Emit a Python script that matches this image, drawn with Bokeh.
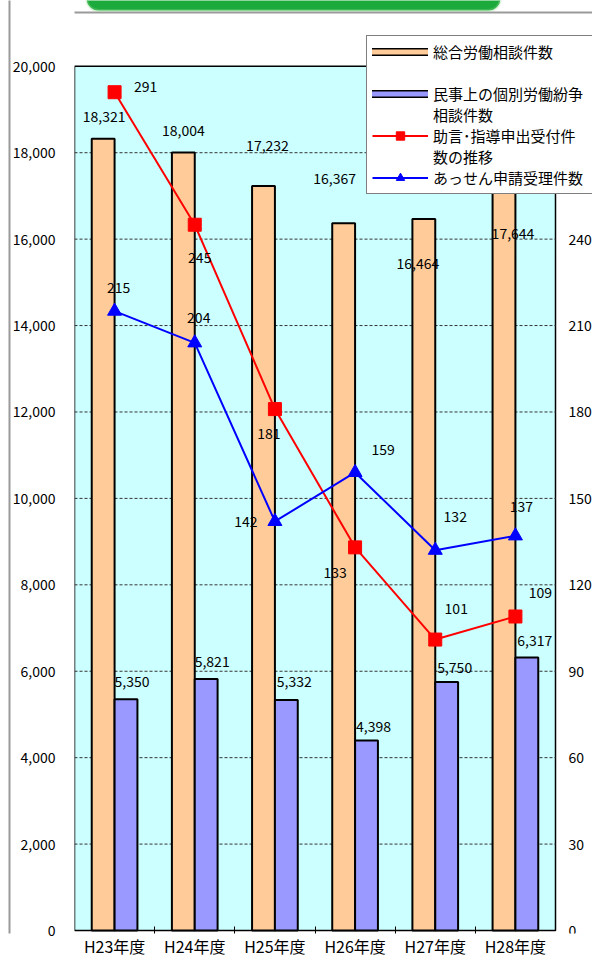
from bokeh.plotting import figure
from bokeh.models import (ColumnDataSource, Range1d, LinearAxis, FixedTicker, BoxAnnotation,
                          Legend, LegendItem, NumeralTickFormatter)
from bokeh.core.properties import value
from bokeh.embed import file_html
from bokeh.resources import INLINE

# ---- data ----
categories = ["H23年度", "H24年度", "H25年度", "H26年度", "H27年度", "H28年度"]
consult_total = [18321, 18004, 17232, 16367, 16464, 17644]      # 総合労働相談件数
civil_disputes = [5350, 5821, 5332, 4398, 5750, 6317]            # 民事上の個別労働紛争相談件数
advice_requests = [291, 245, 181, 133, 101, 109]                  # 助言・指導申出受付件数
mediation_requests = [215, 204, 142, 159, 132, 137]               # あっせん申請受理件数
left_ticks = [0, 2000, 4000, 6000, 8000, 10000, 12000, 14000, 16000, 18000, 20000]
right_ticks = [0, 30, 60, 90, 120, 150, 180, 210, 240, 270, 300]
legend_rows = ["総合労働相談件数", " ", "民事上の個別労働紛争", "相談件数",
               "助言･指導申出受付件", "数の推移", "あっせん申請受理件数"]

# ---- label placement (screen px offsets, styling only) ----
orange_dx = [1, 0, 4, -9, -6, 9]
orange_dy = [-22, -22, -40, -45, 44, 65]
purple_dx = [6, 6, 8, 7, 8, 8]
purple_dy = [-18, -17, -19, -14, -15, -17]
red_dx = [31, 5, -6, -20, 21, 25]
red_dy = [-6, 33, 24, 25, -31, -24]
blue_dx = [4, 4, -29, 28, 20, 6]
blue_dy = [-24, -25, 0, -23, -34, -29]

# ---- layout constants ----
W, H = 592, 960
FRAME_LEFT = 74
FRAME_BOTTOM = 936        # frame bottom (px)
PLOT_RIGHT = 555          # right edge of the plot area (px)
PLOT_BOTTOM = 933         # zero line (px)
PLOT_TOP = 66             # top of plot area (px)
FONT = "Noto Sans CJK JP"
BW = 0.285

n = len(categories)
xs = list(range(1, n + 1))
px_per_cat = (PLOT_RIGHT - FRAME_LEFT) / n
x_end = 0.5 + (W - FRAME_LEFT) / px_per_cat
plot_h = PLOT_BOTTOM - PLOT_TOP
ratio = right_ticks[-1] / left_ticks[-1]

def px_x(px):
    return 0.5 + (px - FRAME_LEFT) / px_per_cat

def px_y(py):
    return (PLOT_BOTTOM - py) / plot_h * left_ticks[-1]

def fmt(v):
    return f"{v:,}"

src = ColumnDataSource(dict(
    x=xs, xo=[x - BW / 2 for x in xs], xp=[x + BW / 2 for x in xs],
    total=consult_total, civil=civil_disputes,
    advice=advice_requests, med=mediation_requests,
    total_lbl=[fmt(v) for v in consult_total], civil_lbl=[fmt(v) for v in civil_disputes],
    advice_lbl=[str(v) for v in advice_requests], med_lbl=[str(v) for v in mediation_requests],
    odx=orange_dx, ody=orange_dy, pdx=purple_dx, pdy=purple_dy,
    rdx=red_dx, rdy=red_dy, bdx=blue_dx, bdy=blue_dy,
))

y0, y1 = px_y(FRAME_BOTTOM), px_y(0)
p = figure(width=W, height=H, output_backend="svg", toolbar_location=None,
           x_range=Range1d(0.5, x_end), y_range=Range1d(y0, y1),
           min_border_left=FRAME_LEFT, min_border_right=0, min_border_top=0,
           min_border_bottom=H - FRAME_BOTTOM)
p.extra_y_ranges = {"right": Range1d(y0 * ratio, y1 * ratio)}
p.background_fill_color = "white"
p.border_fill_color = "white"
p.outline_line_color = None
p.xgrid.grid_line_color = None
p.ygrid.grid_line_color = None

# left axis
ya = p.yaxis[0]
ya.ticker = FixedTicker(ticks=left_ticks)
ya.formatter = NumeralTickFormatter(format="0,0")
ya.axis_line_color = None
ya.major_tick_line_color = None
ya.minor_tick_line_color = None
ya.major_tick_out = 0
ya.major_tick_in = 0
ya.major_label_standoff = 19
ya.major_label_text_font = FONT
ya.major_label_text_font_size = "14px"
ya.major_label_text_color = "black"

# outer gray frame line (empty axis)
edge_axis = LinearAxis(ticker=FixedTicker(ticks=[]), axis_line_color="#9a9a9a", axis_line_width=2,
                       major_tick_line_color=None, minor_tick_line_color=None,
                       major_label_text_font_size="0px")
p.add_layout(edge_axis, "left")

# bottom axis
xa = p.xaxis[0]
xa.ticker = FixedTicker(ticks=xs, minor_ticks=[x + 0.5 for x in xs[:-1]])
xa.major_label_overrides = {x: c for x, c in zip(xs, categories)}
xa.axis_line_color = None
xa.major_tick_line_color = None
xa.major_tick_out = 0
xa.major_tick_in = 0
xa.minor_tick_line_color = "black"
xa.minor_tick_in = 7
xa.minor_tick_out = 0
xa.major_label_standoff = 0
xa.major_label_text_font = FONT
xa.major_label_text_font_size = "16px"
xa.major_label_text_color = "black"

# plot area
p.quad(left=[0.5], right=[n + 0.5], bottom=[0], top=[left_ticks[-1]],
       fill_color="#CCFFFF", line_color="black", line_width=1.5)
inner = left_ticks[1:-1]
p.segment(x0=[0.5] * len(inner), x1=[n + 0.5] * len(inner), y0=inner, y1=inner,
          line_color="#333333", line_dash="3 2", line_width=1)

# decorations: top frame line and green banner
p.segment(x0=[px_x(0)], x1=[px_x(W)], y0=[px_y(12)], y1=[px_y(12)],
          line_color="#9a9a9a", line_width=2)
p.add_layout(BoxAnnotation(left=px_x(86), right=px_x(500), bottom=px_y(10), top=px_y(-30),
                           fill_color="#1DAA3C", fill_alpha=1, line_color="#93DB8F",
                           line_width=3, border_radius=12))

# bars
orange_r = p.vbar(x="xo", top="total", width=BW, source=src,
                  fill_color="#FFCC99", line_color="black", line_width=2)
purple_r = p.vbar(x="xp", top="civil", width=BW, source=src,
                  fill_color="#9999FF", line_color="black", line_width=2)

# lines
red_line = p.line(x="x", y="advice", source=src, y_range_name="right",
                  line_color="#FF0000", line_width=2)
red_pts = p.scatter(x="x", y="advice", source=src, y_range_name="right",
                    marker="square", size=13, fill_color="#FF0000", line_color="#FF0000")
blue_line = p.line(x="x", y="med", source=src, y_range_name="right",
                   line_color="#0000FF", line_width=2)
blue_pts = p.scatter(x="x", y="med", source=src, y_range_name="right",
                     marker="triangle", size=14, fill_color="#0000FF", line_color="#0000FF")

# data labels
common = dict(source=src, text_font=value(FONT), text_font_size="14px", text_color="black",
              text_align="center", text_baseline="middle")
p.text(x="xo", y="total", text="total_lbl", x_offset="odx", y_offset="ody", **common)
p.text(x="xp", y="civil", text="civil_lbl", x_offset="pdx", y_offset="pdy", **common)
p.text(x="x", y="advice", text="advice_lbl", y_range_name="right",
       x_offset="rdx", y_offset="rdy", **common)
p.text(x="x", y="med", text="med_lbl", y_range_name="right",
       x_offset="bdx", y_offset="bdy", **common)

# right axis labels (secondary scale)
p.text(x=[n + 0.5] * len(right_ticks), y=right_ticks, text=[str(t) for t in right_ticks],
       y_range_name="right", x_offset=13, text_font=value(FONT), text_font_size="14px",
       text_color="black", text_align="left", text_baseline="middle")

# legend swatches (drawn only in legend; data lies far outside the view)
sw_src = ColumnDataSource(dict(x=[0.5, 0.6], y=[-1e7, -1e7]))
o_edge = p.line(x="x", y="y", source=sw_src, line_color="black", line_width=8, line_cap="square")
o_fill = p.line(x="x", y="y", source=sw_src, line_color="#FFCC99", line_width=5, line_cap="square")
p_edge = p.line(x="x", y="y", source=sw_src, line_color="black", line_width=8, line_cap="square")
p_fill = p.line(x="x", y="y", source=sw_src, line_color="#9999FF", line_width=5, line_cap="square")
blank = p.line(x="x", y="y", source=sw_src, line_alpha=0)

renders = [[o_edge, o_fill], [blank], [p_edge, p_fill], [blank],
           [red_line, red_pts], [blank], [blue_line, blue_pts]]
items = [LegendItem(label=lbl, renderers=r) for lbl, r in zip(legend_rows, renders)]
legend = Legend(items=items, location=(292, FRAME_BOTTOM - 197), orientation="vertical",
                padding=5, spacing=0, margin=0, glyph_width=56, glyph_height=21,
                label_height=21, label_width=175, label_standoff=5,
                label_text_font=FONT,
                label_text_font_size="15px", label_text_color="black",
                background_fill_color="white", background_fill_alpha=1.0,
                border_line_color="black", border_line_width=1)
p.add_layout(legend)

open("out.html", "w").write(file_html(p, INLINE))
